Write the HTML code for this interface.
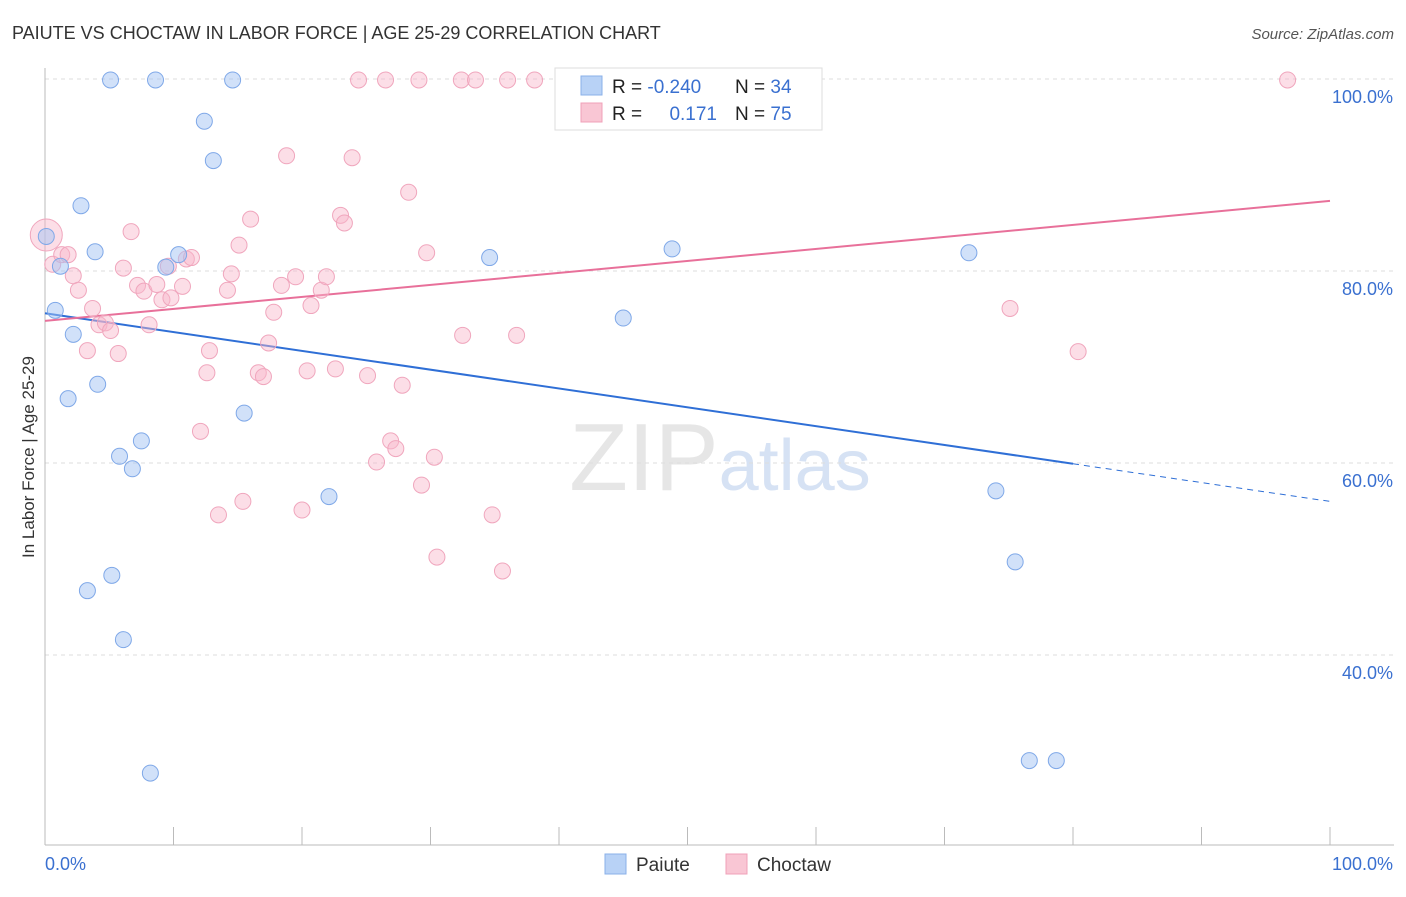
<!DOCTYPE html>
<html><head><meta charset="utf-8"><style>
body{margin:0;background:#fff;font-family:"Liberation Sans",sans-serif;}
svg text{font-family:"Liberation Sans",sans-serif;}
</style></head><body>
<svg id="chart" width="1406" height="892" xmlns="http://www.w3.org/2000/svg">
<text x="12" y="39" font-size="18" fill="#333">PAIUTE VS CHOCTAW IN LABOR FORCE | AGE 25-29 CORRELATION CHART</text>
<text x="1394" y="39" font-size="15" fill="#555" text-anchor="end" font-style="italic">Source: ZipAtlas.com</text>
<text x="720" y="490" font-size="96" text-anchor="middle" fill="#e6e6e6" font-family="Liberation Serif">ZIP<tspan fill="#d6e2f4" font-family="Liberation Sans" font-size="72">atlas</tspan></text>
<g id="grid"></g>
<g id="axes"></g>
<g id="lines"></g>
<g id="pts"></g>
<text transform="translate(34,457) rotate(-90)" font-size="17" fill="#333" text-anchor="middle">In Labor Force | Age 25-29</text>
<g>
<rect x="555" y="68" width="267" height="62" fill="#fff" stroke="#ddd"/>
<rect x="581" y="76" width="21" height="19" fill="#b8d2f6" stroke="#8ab0e8"/>
<rect x="581" y="103" width="21" height="19" fill="#f9c6d4" stroke="#f0a0b8"/>
<text x="612" y="93" font-size="19" fill="#222">R = <tspan fill="#3a70d0">-0.240</tspan></text>
<text x="735" y="93" font-size="19" fill="#222">N = <tspan fill="#3a70d0">34</tspan></text>
<text x="612" y="120" font-size="19" fill="#222">R = </text>
<text x="717" y="120" font-size="19" fill="#3a70d0" text-anchor="end">0.171</text>
<text x="735" y="120" font-size="19" fill="#222">N = <tspan fill="#3a70d0">75</tspan></text>
</g>
<g>
<rect x="605" y="854" width="21" height="20" fill="#b8d2f6" stroke="#8ab0e8"/>
<text x="636" y="871" font-size="19" fill="#333">Paiute</text>
<rect x="726" y="854" width="21" height="20" fill="#f9c6d4" stroke="#f0a0b8"/>
<text x="757" y="871" font-size="19" fill="#333">Choctaw</text>
</g>
</svg>
<script>
const yTicks=[100,80,60,40];
const yTickLabels=["100.0%","80.0%","60.0%","40.0%"];
const xTicks=[0,10,20,30,40,50,60,70,80,90,100];
const paiuteX=[0.1,1.2,0.8,2.2,1.8,4.1,2.8,3.9,5.1,8.6,14.6,12.4,13.1,10.4,9.4,7.5,5.8,6.8,15.5,5.2,3.3,6.1,8.2,22.1,34.6,45.0,48.8,45.4,71.9,74.0,75.5,76.6,78.7,47.5];
const paiuteY=[83.6,80.5,75.9,73.4,66.7,68.2,86.8,82.0,99.9,99.9,99.9,95.6,91.5,81.7,80.4,62.3,60.7,59.4,65.2,48.3,46.7,41.6,27.7,56.5,81.4,75.1,82.3,99.9,81.9,57.1,49.7,29.0,29.0,99.9];
const choctawX=[0.1,0.6,1.3,1.8,2.2,2.6,3.7,4.2,4.7,5.1,3.3,5.7,6.1,6.7,7.2,7.7,8.1,8.7,9.1,9.8,9.6,10.7,11.0,11.4,12.1,12.6,12.8,13.5,14.2,14.5,15.1,15.4,16.0,16.6,17.0,17.4,17.8,18.4,18.8,19.5,20.0,20.4,20.7,21.5,21.9,22.6,23.0,23.3,23.9,24.4,25.1,25.8,26.5,26.9,27.3,27.8,28.3,29.1,29.3,29.7,30.3,30.5,32.4,32.5,33.5,34.8,35.6,36.0,36.7,38.1,51.4,75.1,80.4,96.7];
const choctawY=[83.75,80.7,81.7,81.7,79.5,78.0,76.1,74.4,74.6,73.8,71.7,71.4,80.3,84.1,78.5,77.9,74.4,78.6,77.0,77.2,80.5,78.4,81.25,81.4,63.3,69.4,71.7,54.6,78.0,79.7,82.7,56.0,85.4,69.4,69.0,72.5,75.7,78.5,92.0,79.4,55.1,69.6,76.4,78.0,79.4,69.8,85.8,85.0,91.8,99.9,69.1,60.1,99.9,62.3,61.5,68.1,88.2,99.9,57.7,81.9,60.6,50.2,99.9,73.3,99.9,54.6,48.75,99.9,73.3,99.9,99.9,76.1,71.6,99.9];
const choctawSize=[2].concat(new Array(73).fill(1));
const paiuteTrend=[75.6,56.0];
const choctawTrend=[74.8,87.3];
const NS='http://www.w3.org/2000/svg';
const xs=v=>45+v*12.85, ys=v=>79+(100-v)*9.6;
function mk(t,a,p){const e=document.createElementNS(NS,t);for(const k in a)e.setAttribute(k,a[k]);p.appendChild(e);return e;}
const grid=document.getElementById('grid'),axes=document.getElementById('axes');
yTicks.forEach((t,i)=>{
 const l=mk('line',{x1:45,x2:1394,y1:ys(t),y2:ys(t),stroke:'#ddd','stroke-dasharray':'4,4'},grid);
 
 
 const tx=mk('text',{x:1393,y:ys(t)+24,'font-size':18,fill:'#3a70d0','text-anchor':'end'},axes);
 tx.textContent=yTickLabels[i];
 
 
});
mk('line',{x1:45,x2:45,y1:68,y2:845,stroke:'#bbb'},axes);
mk('line',{x1:45,x2:1394,y1:845,y2:845,stroke:'#bbb'},axes);
xTicks.forEach(t=>{
 const l=mk('line',{x1:xs(t),x2:xs(t),y1:827,y2:845,stroke:'#bbb'},axes);
 
 
});
const x0=mk('text',{x:45,y:870,'font-size':18,fill:'#3a70d0'},axes);x0.textContent='0.0%';


const x1=mk('text',{x:1393,y:870,'font-size':18,fill:'#3a70d0','text-anchor':'end'},axes);x1.textContent='100.0%';


const pts=document.getElementById('pts');
choctawX.forEach((x,i)=>{
 const c=mk('circle',{cx:xs(x),cy:ys(choctawY[i]),r:8*choctawSize[i],fill:'rgba(248,182,202,0.45)',stroke:'#f0a6bd','stroke-width':1},pts);
 
 
});
paiuteX.forEach((x,i)=>{
 const c=mk('circle',{cx:xs(x),cy:ys(paiuteY[i]),r:8,fill:'rgba(164,196,244,0.5)',stroke:'#7fa8e8','stroke-width':1},pts);
 
 
});
const lines=document.getElementById('lines');
const pm=x=>paiuteTrend[0]+(paiuteTrend[1]-paiuteTrend[0])*x/100;
const l1=mk('line',{x1:xs(0),y1:ys(pm(0)),x2:xs(80),y2:ys(pm(80)),stroke:'#2f6fd6','stroke-width':2},lines);


const l2=mk('line',{x1:xs(80),y1:ys(pm(80)),x2:xs(100),y2:ys(pm(100)),stroke:'#2f6fd6','stroke-width':1,'stroke-dasharray':'6,5'},lines);


const l3=mk('line',{x1:xs(0),y1:ys(choctawTrend[0]),x2:xs(100),y2:ys(choctawTrend[1]),stroke:'#e8709a','stroke-width':2},lines);


</script>
</body></html>
